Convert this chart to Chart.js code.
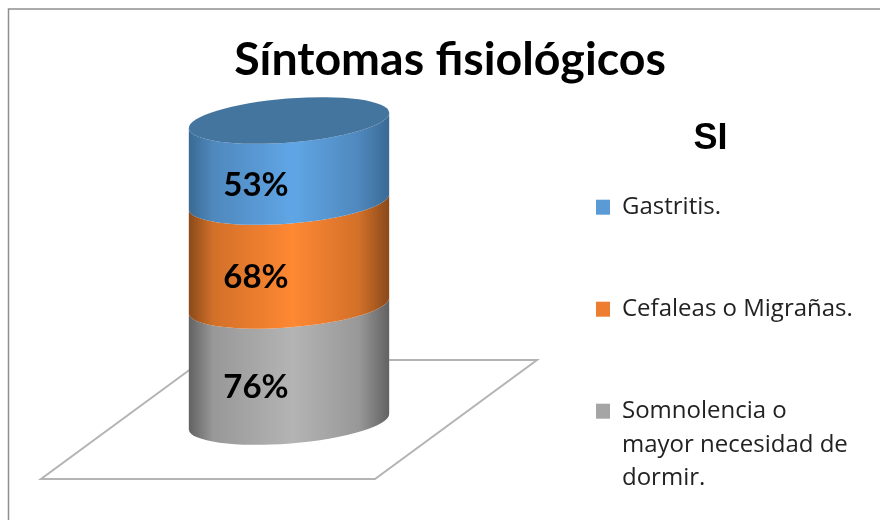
<!DOCTYPE html>
<html>
<head>
<meta charset="utf-8">
<style>
  html, body { margin: 0; padding: 0; background: #fff; }
  #wrap { position: relative; width: 880px; height: 520px; overflow: hidden; }
</style>
<script src="https://cdn.jsdelivr.net/npm/chart.js@4/dist/chart.umd.min.js"></script>
</head>
<body>
<div id="wrap"><canvas id="chart" width="880" height="520"></canvas></div>
<script>
var categories = ['SI'];
var titleText = 'Síntomas fisiológicos';
var seriesNames = ['Gastritis.', 'Cefaleas o Migrañas.', ['Somnolencia o', 'mayor necesidad de', 'dormir.']];
var gastritis = [53];
var cefaleas = [68];
var somnolencia = [76];

// flat colour for the legend, then edge / mid / peak for the cylinder side
var blue   = ['#5B9BD5', '#3A6A94', '#4F88BD', '#60A6E6'];
var orange = ['#ED7D31', '#8A4A1A', '#D27029', '#FF8833'];
var gray   = ['#A5A5A5', '#626262', '#989898', '#B4B4B4'];

var RX = 100.5, RY = 22, TILT = -0.08;

function sideGradient(ctx, bar, c) {
  var half = bar.width / 2;
  var g = ctx.createLinearGradient(bar.x - half, 0, bar.x + half, 0);
  g.addColorStop(0, c[1]);
  g.addColorStop(0.12, c[2]);
  g.addColorStop(0.52, c[3]);
  g.addColorStop(0.85, c[2]);
  g.addColorStop(1, c[1]);
  return g;
}

// floor, frame and the cylinder are painted here instead of the plain rectangles
var cylinder = {
  id: 'cylinder',
  afterLayout: function (chart) {
    chart.legend.width = 385; // only moves the legend title
  },
  beforeDatasetsDraw: function (chart) {
    var ctx = chart.ctx;
    var metas = chart.getSortedVisibleDatasetMetas();
    var first = metas[0].data[0];
    var last = metas[metas.length - 1].data[0];
    var cx = first.x;
    var y0 = first.base;

    ctx.save();
    ctx.lineWidth = 1.5;
    ctx.strokeStyle = '#8f8f8f';
    ctx.beginPath();
    ctx.moveTo(8.5, 520);
    ctx.lineTo(8.5, 9);
    ctx.lineTo(880, 9);
    ctx.stroke();

    ctx.lineWidth = 2;
    ctx.strokeStyle = '#b4b4b4';
    ctx.beginPath();
    ctx.moveTo(cx - 86, y0 - 61.5);
    ctx.lineTo(cx - 248, y0 + 57.5);
    ctx.lineTo(cx + 86, y0 + 57.5);
    ctx.lineTo(cx + 248, y0 - 61.5);
    ctx.closePath();
    ctx.stroke();

    metas.forEach(function (meta) {
      var bar = meta.data[0];
      var c = chart.data.datasets[meta.index].shades;
      ctx.beginPath();
      ctx.ellipse(cx, bar.base, RX, RY, TILT, 0, Math.PI, false);
      ctx.ellipse(cx, bar.y, RX, RY, TILT, Math.PI, 0, true);
      ctx.closePath();
      ctx.fillStyle = sideGradient(ctx, bar, c);
      ctx.fill();
    });

    ctx.beginPath();
    ctx.ellipse(cx, last.y, RX, RY, TILT, 0, Math.PI * 2);
    ctx.fillStyle = '#44759F';
    ctx.fill();

    ctx.fillStyle = '#000';
    ctx.font = 'bold 33px Lato';
    ctx.textAlign = 'center';
    ctx.textBaseline = 'middle';
    metas.forEach(function (meta) {
      var bar = meta.data[0];
      var v = chart.data.datasets[meta.index].data[0];
      ctx.fillText(v + '%', cx - 33, (bar.y + bar.base) / 2 + 24);
    });
    ctx.restore();
    return false;
  }
};

new Chart('chart', {
  type: 'bar',
  data: {
    labels: categories,
    datasets: [
      { label: seriesNames[2], data: somnolencia, backgroundColor: gray[0], shades: gray },
      { label: seriesNames[1], data: cefaleas, backgroundColor: orange[0], shades: orange },
      { label: seriesNames[0], data: gastritis, backgroundColor: blue[0], shades: blue }
    ]
  },
  options: {
    responsive: false,
    animation: false,
    barThickness: 200,
    layout: { padding: { left: 42, right: 22 } },
    scales: {
      x: {
        stacked: true,
        grid: { display: false },
        border: { display: false },
        ticks: { display: false },
        afterFit: function (s) { s.height = 98.5; }
      },
      y: {
        stacked: true,
        min: 0,
        max: 197,
        grid: { display: false },
        border: { display: false },
        ticks: { display: false },
        afterFit: function (s) { s.width = 18; }
      }
    },
    plugins: {
      title: {
        display: true,
        text: titleText,
        color: '#000',
        font: { family: 'Lato', size: 46.5, weight: 'bold', lineHeight: 1.2 },
        padding: { top: 32, bottom: 32.7 }
      },
      legend: {
        position: 'right',
        align: 'start',
        reverse: true,
        maxWidth: 340,
        title: {
          display: true,
          text: categories[0],
          color: '#000',
          position: 'center',
          font: { family: '"Liberation Sans"', size: 36, weight: 'bold' },
          padding: { top: 121, bottom: -47 }
        },
        labels: {
          color: '#222',
          boxWidth: 14,
          boxHeight: 15,
          padding: 78,
          font: { family: '"Open Sans"', size: 24, lineHeight: 1.4 }
        }
      },
      tooltip: { enabled: false }
    }
  },
  plugins: [cylinder]
});
</script>
</body>
</html>
